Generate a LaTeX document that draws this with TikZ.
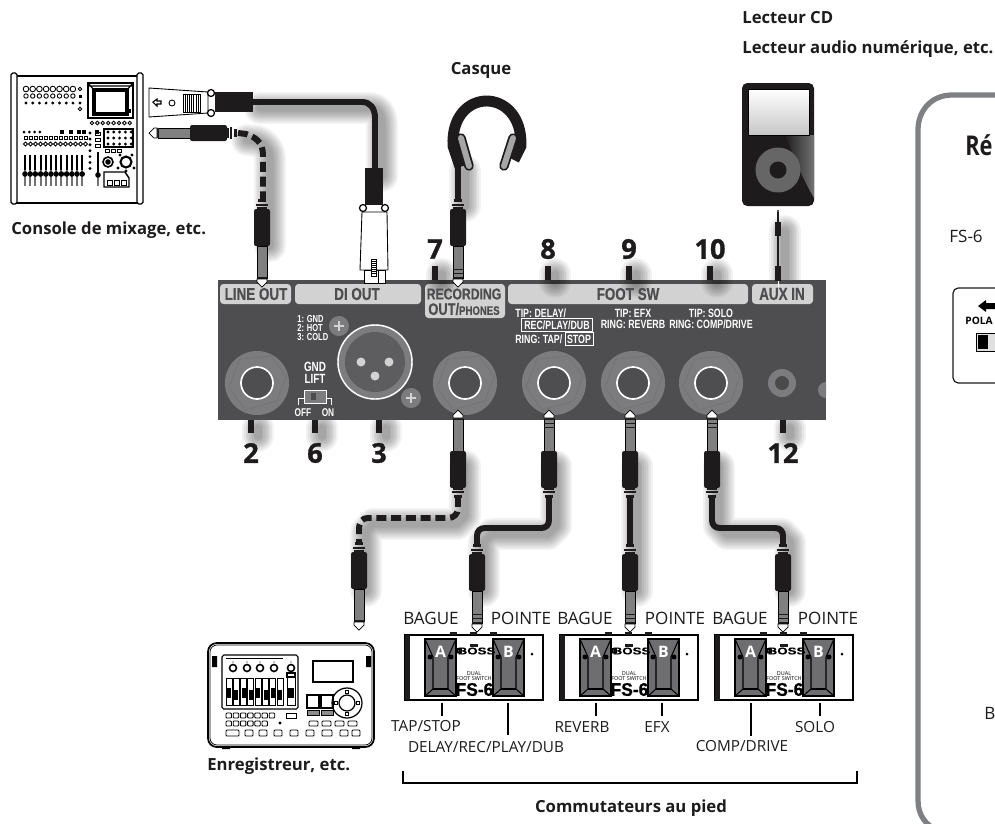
\documentclass[tikz,border=0pt]{standalone}
\usepackage{fontspec}
\usetikzlibrary{calc,positioning,arrows}
\setmainfont{Open Sans}
\newfontfamily\panelfont[FakeStretch=.78,FakeBold=.6]{Liberation Sans}
\newfontfamily\smallpanelfont[FakeStretch=.74]{Liberation Sans}
\newfontfamily\bossfont[FakeStretch=1.35,FakeBold=.4]{Liberation Sans}
\newfontfamily\fsfont[FakeStretch=.95,FakeBold=.8]{Liberation Sans}
\newfontfamily\titlefont[FakeStretch=.8]{Open Sans}
\newfontfamily\numfont[FakeBold=1]{Open Sans}
\definecolor{paneldark}{HTML}{4E4E50}
\definecolor{panellight}{HTML}{D2D2D3}
\definecolor{jackgray}{HTML}{7C7C7E}
\definecolor{framegray}{HTML}{7F8083}
\definecolor{inkblack}{HTML}{1D1B1C}
\definecolor{pedalgray}{HTML}{6E6E70}
\newcommand{\softshadow}[1]{%
  \foreach \w in {4,6,...,18} {\draw[black,opacity=.05,line width=\w pt,line cap=round,line join=round,shift={(7,6)}] #1;}}
\tikzset{
  caption/.style={font=\fontsize{9.5}{11}\selectfont\bfseries,text=inkblack,inner sep=0pt},
  footlabel/.style={font=\fontsize{8.7}{10}\selectfont,text=inkblack,inner sep=0pt},
  ringlabel/.style={font=\fontsize{9.7}{11}\selectfont,text=inkblack,inner sep=0pt},
  barlabel/.style={font=\panelfont\fontsize{9.8}{11}\selectfont\bfseries,text=paneldark,inner sep=0pt},
  smalltext/.style={font=\smallpanelfont\fontsize{6.8}{8}\selectfont\bfseries,text=white,inner sep=0pt},
  tinytext/.style={font=\smallpanelfont\fontsize{5.8}{7}\selectfont\bfseries,text=white,inner sep=0pt},
  bignum/.style={font=\numfont\fontsize{15.5}{16}\selectfont\bfseries,text=inkblack,inner sep=0pt},
  cable/.style={inkblack,line width=3.4pt},
  dashcable/.style={inkblack,line width=3.4pt,dash pattern=on 5.6pt off 2.8pt},
  tick/.style={inkblack,line width=3pt},
  steel/.style={draw=black,line width=.4pt,left color=black!50,middle color=white,right color=black!50}
}
% штекеры: остриё в (#1,#2), поворот #3
\newcommand{\plugbody}{%
    \draw[steel] (-5,9) rectangle (5,41);
    \fill[inkblack] (-5,7) rectangle (5,10);
    \draw[black,fill=white,line width=.4pt] (0,0) -- (5,5) -- (5,8) -- (-5,8) -- (-5,5) -- cycle;
    \fill[inkblack,rounded corners=1.2pt] (-8,41) rectangle (8,78);
    \fill[inkblack] (-5,78) rectangle (5,80);
    \fill[inkblack] (-6,81) rectangle (6,83);
    \fill[inkblack] (-4,85) rectangle (4,88);
}
\newcommand{\monoplug}[3]{\begin{scope}[shift={(#1,#2)},rotate=#3]\plugbody\end{scope}}
\newcommand{\stereoplug}[3]{\begin{scope}[shift={(#1,#2)},rotate=#3]\plugbody
    \fill[inkblack] (-5,13) rectangle (5,14);
    \fill[inkblack] (-5,17) rectangle (5,18);
  \end{scope}}
\newcommand{\jacksocket}[2]{\begin{scope}[shift={(#1,#2)}]
    \fill[jackgray] (0,0) circle (32);
    \draw[black!55,line width=.4pt] (-17,-24) -- (14,-27) -- (29,-7) -- (20,18) -- (-12,27) -- (-28,4) -- cycle;
    \fill[black!35!jackgray] (0,0) circle (17);
    \draw[white,line width=1pt] (0,0) circle (16);
    \fill[paneldark] (0,0) circle (14.5);
  \end{scope}}
\newcommand{\dualpedal}[2]{\begin{scope}[shift={(#1,635)}]
    \draw[black,fill=white,line width=.9pt] (0,0) rectangle (138,65);
    \fill[inkblack] (0,0) rectangle (5,65);
    \fill[inkblack] (45,-3) rectangle (52,0);
    \fill[inkblack] (65,-3) rectangle (72,0);
    \fill[inkblack] (85,-3) rectangle (92,0);
    \foreach \px/\lett in {20/A,88/B} {
      \begin{scope}[shift={(\px,0)}]
        \draw[black,fill=pedalgray,line width=.6pt] (0,4) -- (31,4) -- (31,61) -- (0,61) -- cycle;
        \draw[black,line width=.6pt] (0,4) -- (8,22) -- (8,54) -- (0,61);
        \draw[black,line width=.6pt] (31,4) -- (23,22) -- (23,54) -- (31,61);
        \draw[black,line width=.6pt] (8,54) -- (23,54);
        \fill[black] (5,22) circle (2.5) (26,22) circle (2.5);
        \node[inner sep=0pt,text=white,font=\fontsize{9}{10}\selectfont\bfseries] (pedal#2\lett) at (15.5,17) {\lett};
      \end{scope}
    }
    \draw[black,line width=.4pt] (52.5,13.5) rectangle (56.5,18) (52.5,13.5) -- (56.5,18) (52.5,18) -- (56.5,13.5);
    \node[inner sep=0pt,font=\bossfont\fontsize{5.6}{7}\selectfont\bfseries] (boss#2) at (71.5,16) {BOSS};
    \node[inner sep=0pt,font=\fontsize{3.1}{4}\selectfont] (dual#2) at (69,39) {DUAL};
    \node[inner sep=0pt,font=\fontsize{3.1}{4}\selectfont] (switch#2) at (69,43.5) {FOOT SWITCH};
    \node[inner sep=0pt,font=\fsfont\fontsize{10.4}{12}\selectfont\bfseries] (fsname#2) at (69.5,54.5) {FS-6};
    \fill[black] (127,19) circle (1.5);
    \fill[inkblack] (65,9) rectangle (73,12);
  \end{scope}}

\begin{document}
\begin{tikzpicture}[x=0.02cm,y=-0.02cm]
    \clip (0,0) rectangle (995,823);
    \fill[white] (0,0) rectangle (995,823);

    %подписи
    \node[caption,anchor=west] (cdlabel) at (742,18) {Lecteur CD};
    \node[caption,anchor=west] (dmplabel) at (742,49) {Lecteur audio numérique, etc.};
    \node[caption] (phoneslabel) at (481,70) {Casque};
    \node[caption,anchor=west] (mixerlabel) at (11,230) {Console de mixage, etc.};
    \node[caption,anchor=west] (recorderlabel) at (207,766) {Enregistreur, etc.};
    \node[caption] (footlabel) at (631,808) {Commutateurs au pied};

    %тени кабелей
    \softshadow{(253,102) -- (362,102) .. controls (372,102) and (375,110) .. (375,120) -- (375,170)}
    \softshadow{(240,134) -- (250,135) .. controls (258,138) and (263,144) .. (263,152) -- (263,240)}
    \softshadow{(458,165) -- (458,200)}
    \softshadow{(458,460) -- (458,510) -- (450,518) -- (366,518) -- (359,526) -- (359,585)}
    \softshadow{(549,460) -- (549,520) -- (541,528) -- (485,528) -- (477,536) -- (477,585)}
    \softshadow{(630,460) -- (630,585)}
    \softshadow{(712,460) -- (712,520) -- (720,528) -- (775,528) -- (783,536) -- (783,585)}
    \softshadow{(778,225) -- (778,275)}
    \softshadow{(251,422) -- (251,430)}
    \softshadow{(315,422) -- (315,430)}
    \softshadow{(379,422) -- (379,430)}
    \softshadow{(783,422) -- (783,430)}

    %панель
    \fill[paneldark] (218,280) rectangle (826,420);
    \fill[panellight,rounded corners=2pt] (220,284) rectangle (291,304);
    \fill[panellight,rounded corners=2pt] (295,284) rectangle (421,304);
    \fill[panellight,rounded corners=2pt] (425,284) rectangle (505,318);
    \fill[panellight,rounded corners=2pt] (508,284) rectangle (748,304);
    \fill[panellight,rounded corners=2pt] (752,284) rectangle (813,304);
    \softshadow{(435,268) -- (435,276)}
    \softshadow{(548,268) -- (548,276)}
    \softshadow{(629,268) -- (629,276)}
    \softshadow{(710,268) -- (710,276)}
    \node[barlabel] (lineoutbar) at (256,294) {LINE OUT};
    \node[barlabel] (dioutbar) at (357,294) {DI OUT};
    \node[barlabel,font=\panelfont\fontsize{8.9}{10}\selectfont\bfseries] (recbar) at (464,294) {RECORDING};
    \node[barlabel,font=\panelfont\fontsize{9.4}{10}\selectfont\bfseries] (phonesbar) at (464,309) {OUT/\fontsize{7}{8}\selectfont PHONES};
    \node[barlabel] (footbar) at (628,294) {FOOT SW};
    \node[barlabel] (auxbar) at (782,294) {AUX IN};

    %надписи на панели
    \node[tinytext,anchor=west] (gndlabel) at (297,319) {1: GND};
    \node[tinytext,anchor=west] (hotlabel) at (297,328) {2: HOT};
    \node[tinytext,anchor=west] (coldlabel) at (297,337) {3: COLD};
    \node[smalltext,font=\smallpanelfont\fontsize{7.6}{8}\selectfont\bfseries] (gndword) at (315,367) {GND};
    \node[smalltext,font=\smallpanelfont\fontsize{7.6}{8}\selectfont\bfseries] (liftword) at (315,379) {LIFT};
    \node[tinytext,font=\smallpanelfont\fontsize{6.4}{7}\selectfont\bfseries] (offword) at (303,413) {OFF};
    \node[tinytext,font=\smallpanelfont\fontsize{6.4}{7}\selectfont\bfseries] (onword) at (328,413) {ON};
    \draw[white,line width=.5pt] (298,405) -- (298,398) -- (304,398);
    \draw[white,line width=.5pt] (326,398) -- (331,398) -- (331,405);
    \draw[white,fill=jackgray,line width=.5pt] (304,390) rectangle (326,403);
    \fill[black!70] (311,393) rectangle (316,400);
    \node[smalltext,anchor=west] (tipdelay) at (515,313) {TIP: DELAY/};
    \node[smalltext,draw=white,line width=.4pt,inner xsep=0pt,inner ysep=1.2pt,minimum width=40.8pt] (recbox) at (557,325) {REC/PLAY/DUB};
    \node[smalltext,anchor=west] (ringtap) at (515,339) {RING: TAP/};
    \node[smalltext,draw=white,line width=.4pt,inner xsep=0pt,inner ysep=1.2pt,minimum width=15.9pt] (stopbox) at (579,339) {STOP};
    \node[smalltext] (tipefx) at (633,313) {TIP: EFX};
    \node[smalltext] (ringreverb) at (633,324) {RING: REVERB};
    \node[smalltext] (tipsolo) at (711,313) {TIP: SOLO};
    \node[smalltext] (ringcomp) at (711,324) {RING: COMP/DRIVE};

    %гнёзда
    \jacksocket{257}{383}
    \jacksocket{465}{383}
    \jacksocket{554}{383}
    \jacksocket{633}{383}
    \jacksocket{711}{383}
    \fill[jackgray] (782,383) circle (14);
    \fill[black!40!jackgray] (782,383) circle (7);
    \begin{scope}
      \clip (780,370) rectangle (826,420);
      \fill[jackgray] (826,390) circle (8);
    \end{scope}

    %разъём XLR
    \fill[jackgray] (375,362) circle (38);
    \draw[white,line width=.8pt] (375,362) circle (37);
    \fill[black!25!jackgray] (375,362) circle (30);
    \fill[panellight] (361,362) circle (4.5) (389,362) circle (4.5) (375,376) circle (4.5);
    \foreach \sx/\sy in {339/326,411/398} {
      \fill[jackgray] (\sx,\sy) circle (10);
      \draw[panellight,line width=.9pt] (\sx-5,\sy) -- (\sx+5,\sy) (\sx,\sy-5) -- (\sx,\sy+5);
    }

    %метки и номера
    \foreach \tx/\tnum in {251/2,315/6,379/3,783/12} {
      \draw[tick] (\tx,420) -- (\tx,433);
      \node[bignum] (num\tnum) at (\tx,453) {\tnum};
    }
    \foreach \tx/\tnum in {435/7,548/8,629/9,710/10} {
      \draw[tick] (\tx,266) -- (\tx,280);
      \node[bignum] (num\tnum) at (\tx,249) {\tnum};
    }

    %микшер
    \draw[black,fill=white,line width=.7pt] (14,76) rectangle (140,203);
    \draw[black,fill=white,line width=.7pt,rounded corners=1pt] (11,73) rectangle (17,204);
    \draw[black,fill=white,line width=.7pt,rounded corners=1pt] (137,73) rectangle (143,204);
    \foreach \i in {0,...,7} {
      \draw[black,line width=.5pt] ({26+\i*6.7},89) circle (2.8);
      \draw[black,line width=.5pt] ({26+\i*6.7},96) circle (2.2);
      \fill[black] ({26+\i*6.7},103) circle (1.6);
    }
    \draw[black,line width=.5pt] (80,89) circle (1.8) (80,109) circle (1.8);
    \fill[black] (78.5,94.5) rectangle (81.5,97.5);
    \fill[black] (80,103) circle (1.7);
    \draw[black,line width=.6pt] (88,83) rectangle (133,118);
    \draw[black,line width=1.8pt,fill=white] (94,90) rectangle (127,114);
    \draw[black,line width=.7pt] (88,83) -- (94,90) (133,83) -- (127,90) (88,86) -- (133,86);
    \fill[black] (128,109) rectangle (131,113);
    \foreach \i in {0,...,7} { \draw[black,line width=.5pt] ({92+\i*5.4},123) circle (1.8); }
    \foreach \i in {0,...,3} { \fill[black] ({24+\i*5.3},132) circle (1.5); }
    \foreach \qx in {62,71,79,84,97} { \draw[black,fill=black,line width=.3pt] (\qx-1.5,130.5) rectangle (\qx+1.5,133.5); }
    \foreach \i in {0,...,12} {
      \draw[black,line width=.5pt] ({24+\i*5},136.5) rectangle ({27.5+\i*5},139.5);
      \draw[black,line width=.5pt] ({25.5+\i*5},144) circle (1.9);
    }
    \foreach \i in {0,...,11} {
      \fill[black] ({24+\i*5.2},155) rectangle ({26+\i*5.2},170);
      \fill[black!55] ({24+\i*5.2},170) rectangle ({26+\i*5.2},186);
      \fill[black] ({25+\i*5.2},174) circle (2.8);
    }
    \foreach \i in {0,...,6} { \fill[black] (90,{133+\i*5.9}) circle (1.6); }
    \foreach \j in {0,1,2} { \draw[black,line width=.5pt] (95,{132+\j*6}) rectangle (100,{135+\j*6}); }
    \fill[black] (97,152) rectangle (99,174);
    \fill[black!55] (97,174) rectangle (99,186);
    \fill[black] (98,175) circle (2.8);
    \draw[black,line width=.6pt] (104,129) rectangle (133,147);
    \foreach \i in {0,...,4} {
      \foreach \j in {0,1,2} { \fill[black] ({108+\i*5.8},{132+\j*6}) circle (1.6); }
    }
    \foreach \i in {0,...,2} { \draw[black,line width=.5pt] ({105+\i*6},149) rectangle ({109+\i*6},152); }
    \draw[black,line width=.9pt] (108,162) circle (5);
    \fill[black] (108,162) circle (2.8);
    \draw[black,line width=1.2pt] (126,162) circle (5.5);
    \foreach \a/\b in {120/155,132/155,118/168,134/168,126/171} { \fill[black] (\a,\b) circle (1.7); }
    \draw[black,line width=.8pt] (104,172) -- (125,172) -- (129,178) -- (129,187) -- (104,187) -- cycle;
    \draw[black,fill=white,line width=.4pt] (107,180) rectangle (112,185) (114,180) rectangle (119,185) (121,180) rectangle (126,185);

    %кабель XLR
    \draw[cable] (253,102) -- (362,102) .. controls (370,102) and (375,108) .. (375,118) -- (375,170);
    \draw[black,fill=white,line width=.5pt] (149,88) -- (208,92) -- (208,113) -- (149,117) -- cycle;
    \draw[black,line width=.6pt] (153,102) -- (157,99) -- (157,101) -- (161,101) -- (161,104) -- (157,104) -- (157,106) -- cycle;
    \draw[black,line width=.5pt] (172,103) circle (3);
    \draw[black,fill=white,line width=.5pt] (183,94) rectangle (200,112);
    \foreach \i in {0,...,6} { \draw[black,line width=.35pt] ({185+\i*2.2},94) -- ({185+\i*2.2},112); }
    \fill[inkblack] (215,92) rectangle (253,112);
    \draw[black,fill=white,line width=.7pt] (211,93) circle (3.5) (211,113) circle (3.5);
    \fill[inkblack] (365,168) rectangle (383,205);
    \draw[black,fill=white,line width=.5pt] (362,212) -- (387,212) -- (388,270) -- (360,270) -- cycle;
    \draw[black,fill=white,line width=.7pt] (363,208) circle (3.5) (385,208) circle (3.5);
    \draw[black,fill=white,line width=.5pt] (364,270) rectangle (385,283);
    \draw[black,line width=.5pt] (378,270) -- (378,283);
    \draw[black,fill=white,line width=.4pt] (371,259) rectangle (376,276);
    \foreach \i in {0,...,6} { \draw[black,line width=.3pt] (371,{261+\i*2}) -- (376,{261+\i*2}); }

    %штекеры сверху
    \monoplug{149}{133}{90}
    \draw[dashcable] (238,133) -- (246,134) .. controls (255,137) and (263,142) .. (263,155) -- (263,199);
    \monoplug{262}{287}{180}
    \stereoplug{458}{287}{180}
    \draw[cable] (458,200) -- (458,158);

    %наушники
    \draw[inkblack,line width=6.2pt] (460,167) -- (453,146) .. controls (450,86) and (523,86) .. (521,146) -- (514,160);
    \foreach \ax/\ay/\bx/\by in {461/138/469/166,513/138/504/166} {
      \draw[inkblack,line width=5.4pt,line cap=round] (\ax,\ay) -- (\bx,\by);
      \draw[black!35,line width=3.4pt,line cap=round] (\ax,\ay) -- (\bx,\by);
    }

    %плеер
    \fill[inkblack,rounded corners=3pt] (742,83) rectangle (814,206);
    \begin{scope}
      \clip[rounded corners=3pt] (742,83) rectangle (814,206);
      \fill[left color=inkblack,right color=black!55] (784,135) .. controls (792,150) and (800,175) .. (814,198) -- (814,135) -- cycle;
      \fill[left color=inkblack,middle color=black!55,right color=inkblack] (760,83) rectangle (800,89);
    \end{scope}
    \draw[black,top color=white,bottom color=black!22,line width=.4pt] (748,89) rectangle (809,135);
    \fill[black!60] (778,170) circle (22.5);
    \fill[inkblack] (778,170) circle (8.5);
    \fill[inkblack] (778,211) circle (1.2);
    \fill[inkblack] (776.8,212) rectangle (779.2,222);
    \fill[inkblack] (775,222) rectangle (781,236);
    \draw[inkblack,line width=1.1pt] (778,236) -- (778,266);
    \fill[inkblack] (775,266) rectangle (781,281);
    \draw[white,line width=.5pt] (778,281) -- (778,287);

    %рекордер
    \draw[black,fill=white,line width=1pt,rounded corners=5pt] (208,643) rectangle (374,747);
    \draw[black,line width=.4pt,rounded corners=4pt] (210,645) rectangle (372,745);
    \fill[black] (212,656) rectangle (217,667) (366,656) rectangle (371,667);
    \fill[black] (222,746) rectangle (230,749) (352,746) rectangle (360,749);
    \draw[black,line width=.6pt,rounded corners=1pt] (222,655) rectangle (298,709);
    \draw[black,line width=.6pt] (226,658.5) -- (283,658.5);
    \foreach \kx in {233,247,260,274,291} {
      \draw[black,line width=.9pt] (\kx,668) circle (3.5);
      \fill[black] (\kx,662) circle (.6);
    }
    \foreach \i in {0,...,7} {
      \draw[black,line width=.5pt] ({226+\i*7.3},678) rectangle ({232+\i*7.3},705);
      \fill[black] ({227+\i*7.3},{688+mod(\i,2)*2}) rectangle ({231+\i*7.3},{698+mod(\i,2)*2});
    }
    \draw[black,line width=.5pt] (287,675) rectangle (295,705);
    \fill[black] (288,688) rectangle (294,698);
    \draw[black,fill=white,line width=.6pt] (287,673) rectangle (295,677);
    \draw[black,line width=.6pt] (313,661) rectangle (353,682);
    \draw[black,line width=.7pt] (347,703) circle (15);
    \draw[black,line width=.7pt] (347,703) circle (8);
    \foreach \dx/\dy in {347/692,347/714,336/703,358/703} { \draw[black,fill=white,line width=.4pt] (\dx-1.5,\dy-1.5) rectangle (\dx+1.5,\dy+1.5); }
    \foreach \qx in {307,321} {
      \draw[black,line width=.6pt] (\qx,695) rectangle (\qx+12,708);
      \draw[black,fill=black!45,line width=.4pt] (\qx,710) rectangle (\qx+12,715);
    }
    \foreach \i in {0,...,6} { \draw[black,line width=.5pt,rounded corners=.5pt] ({226+\i*7.2},713) rectangle ({231.5+\i*7.2},718); }
    \draw[black,line width=.5pt] (286,713) rectangle (296,718);
    \foreach \i in {0,...,5} { \draw[black,line width=.5pt,rounded corners=.5pt] ({226+\i*7.2},721) rectangle ({231.5+\i*7.2},726); }
    \fill[black] (280,723) circle (1.6);
    \foreach \i in {0,...,3} { \draw[black,line width=.5pt,rounded corners=.5pt] ({309+\i*13},721) rectangle ({318+\i*13},726); }
    \foreach \bx/\bw in {226/13,245/8,259/8,274/8,290/8,306/8,322/10,340/8,352/8} { \draw[black,line width=.5pt,rounded corners=.5pt] (\bx,730) rectangle (\bx+\bw,736); }

    %кабели к педалям
    \monoplug{359}{630}{180}
    \monoplug{458}{410}{0}
    \stereoplug{549}{410}{0}
    \stereoplug{630}{410}{0}
    \stereoplug{712}{410}{0}
    \stereoplug{477}{632}{180}
    \stereoplug{630}{632}{180}
    \stereoplug{783}{632}{180}
    \draw[dashcable] (458,497) -- (458,508) .. controls (458,514) and (454,518) .. (448,518) -- (368,518) .. controls (362,518) and (359,522) .. (359,530) -- (359,543);
    \draw[cable] (549,497) -- (549,520) .. controls (549,525) and (546,528) .. (541,528) -- (485,528) .. controls (480,528) and (477,531) .. (477,536) -- (477,545);
    \draw[cable] (630,497) -- (630,545);
    \draw[cable] (712,497) -- (712,520) .. controls (712,525) and (715,528) .. (720,528) -- (775,528) .. controls (780,528) and (783,531) .. (783,536) -- (783,545);

    %педали
    \dualpedal{405}{one}
    \dualpedal{560}{two}
    \dualpedal{715}{three}

    %подписи педалей
    \foreach \lx/\ltext/\ltag in {431/BAGUE/a,521/POINTE/b,585/BAGUE/c,675/POINTE/d,740/BAGUE/e,828/POINTE/f} {
      \node[ringlabel] (foot\ltag) at (\lx,618) {\ltext};
    }
    \foreach \lx/\ly in {442/716,508/735,596/716,662/716,751/736,820/716} {
      \draw[black,line width=.8pt] (\lx,703) -- (\lx,\ly);
    }
    \node[footlabel] (tapstop) at (426,726) {TAP/STOP};
    \node[footlabel] (delayrec) at (486,747) {DELAY/REC/PLAY/DUB};
    \node[footlabel] (reverb) at (582,727) {REVERB};
    \node[footlabel] (efx) at (657,727) {EFX};
    \node[footlabel] (compdrive) at (742,746) {COMP/DRIVE};
    \node[footlabel] (solo) at (815,727) {SOLO};
    \draw[black,line width=.8pt] (403,771) -- (403,783) -- (857,783) -- (857,771);

    %правая панель
    \draw[framegray,line width=3pt] (995,95) -- (952,95) .. controls (932,95) and (918,110) .. (918,130) -- (918,800) .. controls (918,815) and (925,825) .. (940,832);
    \node[anchor=west,inner sep=0pt,text=inkblack,font=\titlefont\fontsize{15.5}{16}\selectfont\bfseries] (reftitle) at (965,145) {Ré};
    \node[ringlabel,anchor=west] (refswitch) at (949,236) {FS-6};
    \node[ringlabel,anchor=west] (refb) at (984,713) {BA};
    \draw[inkblack,line width=.7pt,rounded corners=3pt] (1010,288) -- (953,288) -- (953,383) -- (1010,383);
    \fill[black] (978,306) -- (986,300) -- (986,303) -- (1000,303) -- (1000,309) -- (986,309) -- (986,312) -- cycle;
    \node[inner sep=0pt,anchor=west,text=black,font=\fontsize{5.8}{7}\selectfont\bfseries] (refpola) at (965,321) {POLA};
    \draw[black,fill=black!12,line width=.5pt] (976,333) rectangle (1005,351);
    \fill[black] (978,335) rectangle (988,349);
\end{tikzpicture}
\end{document}
